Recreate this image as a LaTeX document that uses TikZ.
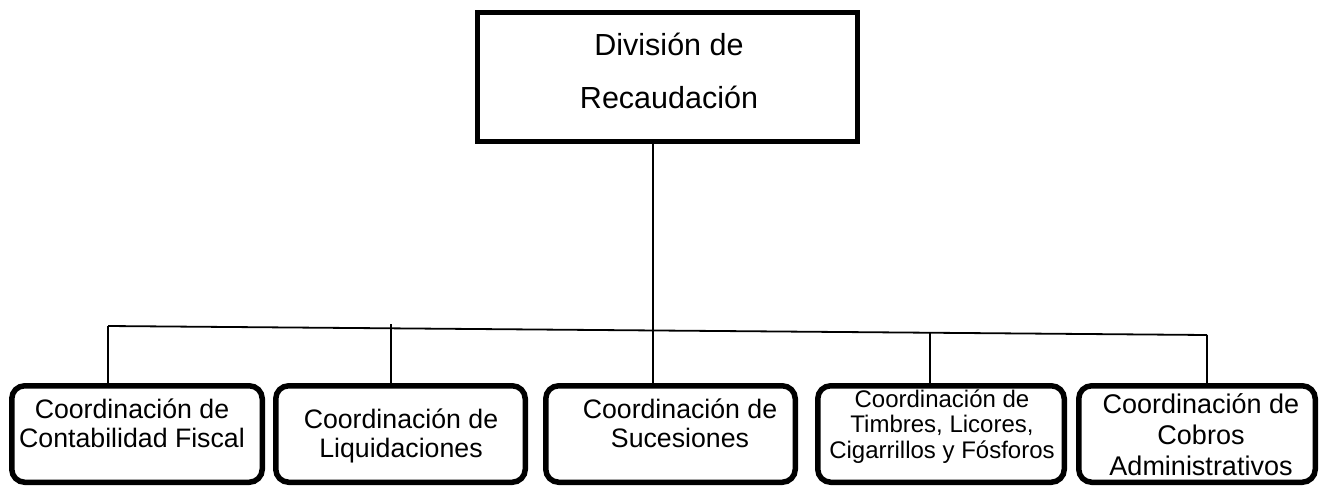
\documentclass[tikz,border=0pt]{standalone}
\usepackage{fontspec}
\setmainfont{Liberation Sans}
\usetikzlibrary{calc}
\tikzset{
  topbox/.style={draw, line width=5pt, inner sep=0pt, minimum width=380pt, minimum height=129pt},
  subbox/.style={draw, line width=5.5pt, rounded corners=13pt, inner sep=0pt, minimum height=96.5pt},
  conn/.style={draw, line width=1.8pt},
  bigtxt/.style={align=center, inner sep=0pt, anchor=base, font=\fontsize{30.5}{53}\selectfont},
  subtxt/.style={align=center, inner sep=0pt, anchor=base, font=\fontsize{26.7}{29}\selectfont},
  cobtxt/.style={align=center, inner sep=0pt, anchor=base, font=\fontsize{27}{31}\selectfont},
  smalltxt/.style={align=center, inner sep=0pt, anchor=base, font=\fontsize{24}{25.5}\selectfont}
}
\begin{document}
\begin{tikzpicture}[x=1pt,y=-1pt]
\useasboundingbox (0,0) rectangle (1320,485);
% top box
\node[topbox] (top) at (667.5,77) {};
\node[bigtxt] (ttop) at (669,108) {División de\\Recaudación};
% sub boxes
\node[subbox, minimum width=250.5pt] (b1) at (137,434) {};
\node[subbox, minimum width=249.5pt] (b2) at (400.5,434) {};
\node[subbox, minimum width=249.5pt] (b3) at (670.5,434) {};
\node[subbox, minimum width=246.5pt] (b4) at (941,434) {};
\node[subbox, minimum width=236.5pt] (b5) at (1197,434) {};
% texts
\node[subtxt] (t1) at (132,447) {Coordinación de\\Contabilidad Fiscal};
\node[subtxt] (t2) at (401,457) {Coordinación de\\Liquidaciones};
\node[subtxt] (t3) at (680,447) {Coordinación de\\Sucesiones};
\node[smalltxt] (t4) at (942,458) {Coordinación de\\Timbres, Licores,\\Cigarrillos y Fósforos};
\node[cobtxt] (t5) at (1201,475) {Coordinación de\\Cobros\\Administrativos};
% connectors
\coordinate (hl) at (108,326);
\coordinate (hr) at (1207,335);
\coordinate (j2) at (391,324);
\coordinate (j4) at (930,332.5);
\coordinate (jt) at ($(top.south)+(-14.5,0)$);
\draw[conn] (hl) -- (hr);
\draw[conn] (jt) -- (jt |- b3.north);
\draw[conn] (hl) -- (hl |- b1.north);
\draw[conn] (j2) -- (j2 |- b2.north);
\draw[conn] (j4) -- (j4 |- b4.north);
\draw[conn] (hr) -- (hr |- b5.north);
\end{tikzpicture}
\end{document}
